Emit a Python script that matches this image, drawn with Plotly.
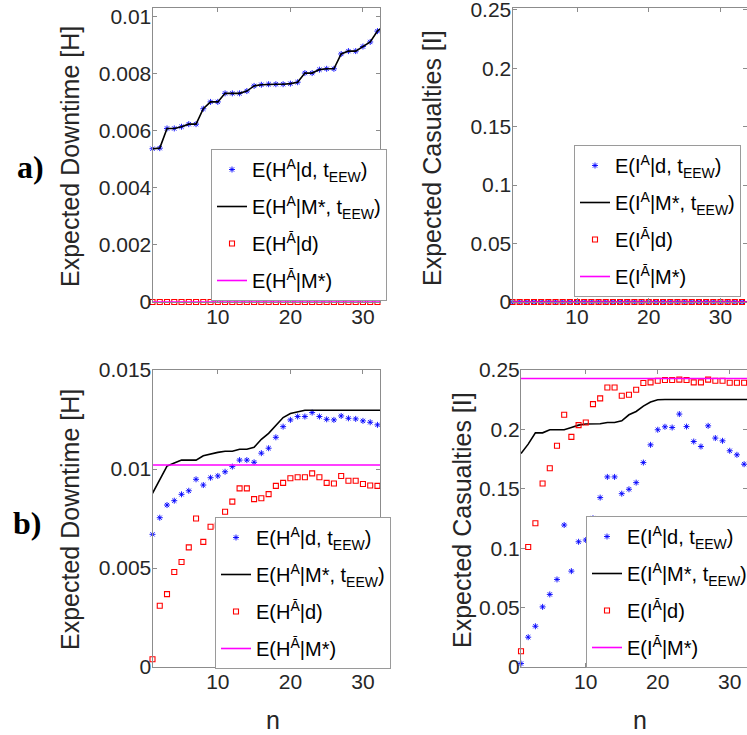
import plotly.graph_objects as go

W, H = 747, 735

# ---------------- data ----------------
n_vals = list(range(1, 35))

# panel a) downtime (H)
a_H_d = [0.00537, 0.00539, 0.00608, 0.00608, 0.00614, 0.00623, 0.00623, 0.00677,
         0.00701, 0.00701, 0.00731, 0.00731, 0.00731, 0.00739, 0.00757, 0.00761,
         0.00763, 0.00763, 0.00763, 0.00765, 0.00770, 0.00802, 0.00802, 0.00814,
         0.00817, 0.00817, 0.00869, 0.00879, 0.00879, 0.00895, 0.00911, 0.00949]
a_H_M = a_H_d + [0.00970]
a_Hbar_d = [0.0] * 32
a_Hbar_M = [0.0] * 34

# panel a) casualties (I)
a_I_d = [0.0] * 34
a_I_M = [0.0] * 34
a_Ibar_d = [0.0] * 34
a_Ibar_M = [0.0] * 34

# panel b) downtime (H)
b_H_d = [0.00670, 0.00754, 0.00818, 0.00840, 0.00872, 0.00890, 0.00948, 0.00919,
         0.00956, 0.00965, 0.00986, 0.01012, 0.01045, 0.01045, 0.01034, 0.01080,
         0.01105, 0.01160, 0.01214, 0.01248, 0.01265, 0.01265, 0.01285, 0.01265,
         0.01251, 0.01248, 0.01268, 0.01256, 0.01253, 0.01243, 0.01236, 0.01223]
b_H_M = [0.00877, 0.00944, 0.01015, 0.01030, 0.01045, 0.01045, 0.01045, 0.01067,
         0.01076, 0.01084, 0.01090, 0.01090, 0.01100, 0.01100, 0.01110, 0.01150,
         0.01180, 0.01220, 0.01260, 0.01280, 0.01290, 0.01297, 0.01297, 0.01297,
         0.01297, 0.01297, 0.01297, 0.01297, 0.01297, 0.01297, 0.01297, 0.01297,
         0.01297, 0.01297]
b_Hbar_d = [0.00039, 0.00309, 0.00368, 0.00480, 0.00530, 0.00604, 0.00750, 0.00632,
            0.00708, 0.00715, 0.00784, 0.00835, 0.00902, 0.00902, 0.00848, 0.00852,
            0.00873, 0.00915, 0.00930, 0.00953, 0.00958, 0.00958, 0.00978, 0.00958,
            0.00930, 0.00927, 0.00965, 0.00941, 0.00941, 0.00924, 0.00917, 0.00915]
b_Hbar_M = [0.0102] * 34

# panel b) casualties (I)
b_I_d = [0.0029, 0.0251, 0.0343, 0.0506, 0.0611, 0.0737, 0.1195, 0.0807,
         0.1054, 0.1069, 0.1252, 0.1426, 0.1600, 0.1600, 0.1459, 0.1496,
         0.1552, 0.1721, 0.1870, 0.1997, 0.2022, 0.2016, 0.2129, 0.2024,
         0.1898, 0.1856, 0.2030, 0.1927, 0.1904, 0.1820, 0.1786, 0.1707]
b_I_M = [0.1797, 0.1876, 0.1971, 0.1971, 0.1997, 0.1997, 0.1997, 0.2016,
         0.2036, 0.2045, 0.2045, 0.2047, 0.2058, 0.2058, 0.2072, 0.2123,
         0.2151, 0.2196, 0.2230, 0.2249, 0.2252, 0.2252, 0.2252, 0.2252,
         0.2252, 0.2252, 0.2252, 0.2252, 0.2252, 0.2252, 0.2252, 0.2252,
         0.2252, 0.2252]
b_Ibar_d = [0.0132, 0.1010, 0.1210, 0.1544, 0.1673, 0.1862, 0.2123, 0.1937,
            0.2036, 0.2058, 0.2213, 0.2261, 0.2353, 0.2353, 0.2283, 0.2292,
            0.2334, 0.2390, 0.2396, 0.2410, 0.2416, 0.2416, 0.2419, 0.2416,
            0.2396, 0.2396, 0.2419, 0.2410, 0.2410, 0.2393, 0.2393, 0.2393]
b_Ibar_M = [0.2429] * 34

x_ticks = [10, 20, 30]
yticks_aH = [0, 0.002, 0.004, 0.006, 0.008, 0.01]
yticks_I = [0, 0.05, 0.1, 0.15, 0.2, 0.25]
yticks_bH = [0, 0.005, 0.01, 0.015]

# ---------------- figure ----------------
FONT = "Liberation Sans"
BLUE, RED, MAG = "#0000ff", "#ff0000", "#ff00ff"

fig = go.Figure()


def labels(sym):
    return [
        f"E({sym}<sup>A</sup>|d, t<sub>EEW</sub>)",
        f"E({sym}<sup>A</sup>|M*, t<sub>EEW</sub>)",
        f"E({sym}<sup>Ā</sup>|d)",
        f"E({sym}<sup>Ā</sup>|M*)",
    ]


def add_panel(k, d1, m1, d2, m2, sym):
    xa = "x" if k == 1 else f"x{k}"
    ya = "y" if k == 1 else f"y{k}"
    lg = "legend" if k == 1 else f"legend{k}"
    lab = labels(sym)
    fig.add_trace(go.Scatter(x=n_vals[:len(d1)], y=d1, mode="markers", name=lab[0],
                             marker=dict(symbol="asterisk-open", size=5, color=BLUE,
                                         line=dict(color=BLUE, width=0.9)),
                             xaxis=xa, yaxis=ya, legend=lg, legendgroup=f"{k}a",
                             cliponaxis=False))
    fig.add_trace(go.Scatter(x=n_vals[:len(m1)], y=m1, mode="lines", name=lab[1],
                             line=dict(color="black", width=1.6),
                             xaxis=xa, yaxis=ya, legend=lg, legendgroup=f"{k}b"))
    fig.add_trace(go.Scatter(x=n_vals[:len(d2)], y=d2, mode="markers", name=lab[2],
                             marker=dict(symbol="square-open", size=5, color=RED,
                                         line=dict(color=RED, width=1.1)),
                             xaxis=xa, yaxis=ya, legend=lg, legendgroup=f"{k}c",
                             cliponaxis=False))
    fig.add_trace(go.Scatter(x=n_vals[:len(m2)], y=m2, mode="lines", name=lab[3],
                             line=dict(color=MAG, width=1.6),
                             xaxis=xa, yaxis=ya, legend=lg, legendgroup=f"{k}d"))


add_panel(1, a_H_d, a_H_M, a_Hbar_d, a_Hbar_M, "H")
add_panel(2, a_I_d, a_I_M, a_Ibar_d, a_Ibar_M, "I")
add_panel(3, b_H_d, b_H_M, b_Hbar_d, b_Hbar_M, "H")
add_panel(4, b_I_d, b_I_M, b_Ibar_d, b_Ibar_M, "I")


def px_x(p):
    return p / W


def px_y(p):
    return 1 - p / H


AX_COL = "#8c8c8c"
common = dict(showline=True, linecolor=AX_COL, linewidth=1, mirror="ticks",
              ticks="inside", ticklen=4, tickcolor=AX_COL, showgrid=False,
              zeroline=False, ticklabeloverflow="allow", ticklabelstandoff=-4,
              tickfont=dict(family=FONT, size=21, color="#262626"))

top_dom = [px_y(302), px_y(8)]
bot_dom = [px_y(667), px_y(370)]

fig.update_layout(
    xaxis=dict(domain=[px_x(152.5), px_x(380)], range=[1, 32.35], tickvals=x_ticks,
               anchor="y", **common),
    yaxis=dict(domain=top_dom, range=[0, 0.0103], tickvals=yticks_aH,
               ticktext=["0", "0.002", "0.004", "0.006", "0.008", "0.01"], anchor="x", **common),
    xaxis2=dict(domain=[px_x(512.5), 1], range=[1, 33.7], tickvals=x_ticks,
                anchor="y2", **common),
    yaxis2=dict(domain=top_dom, range=[0, 0.2515], tickvals=yticks_I,
                ticktext=["0", "0.05", "0.1", "0.15", "0.2", "0.25"], anchor="x2", **common),
    xaxis3=dict(domain=[px_x(152.5), px_x(380)], range=[1, 32.35], tickvals=x_ticks,
                anchor="y3", **common),
    yaxis3=dict(domain=bot_dom, range=[0, 0.015], tickvals=yticks_bH,
                ticktext=["0", "0.005", "0.01", "0.015"], anchor="x3", **common),
    xaxis4=dict(domain=[px_x(521), 1], range=[1, 32.4], tickvals=x_ticks,
                anchor="y4", **common),
    yaxis4=dict(domain=bot_dom, range=[0, 0.25], tickvals=yticks_I,
                ticktext=["0", "0.05", "0.1", "0.15", "0.2", "0.25"], anchor="x4", **common),
)

leg_common = dict(bgcolor="white", bordercolor="#9a9a9a", borderwidth=1,
                  font=dict(family=FONT, size=20, color="black"),
                  xanchor="left", yanchor="top", itemwidth=30, tracegroupgap=8)
fig.update_layout(
    legend=dict(x=px_x(211), y=px_y(149), **leg_common),
    legend2=dict(x=px_x(574), y=px_y(145), **leg_common),
    legend3=dict(x=px_x(215), y=px_y(517), **leg_common),
    legend4=dict(x=px_x(586), y=px_y(516), **leg_common),
)

ann = []
tfont = dict(family=FONT, size=25, color="#262626")
for (x, y, t) in [(70, 157, "Expected Downtime [H]"), (432, 158, "Expected Casualties [I]"),
                  (70, 520, "Expected Downtime [H]"), (462, 520, "Expected Casualties [I]")]:
    ann.append(dict(x=px_x(x), y=px_y(y), xref="paper", yref="paper", text=t,
                    textangle=-90, showarrow=False, font=tfont,
                    xanchor="center", yanchor="middle"))
for (x, y) in [(273, 720), (640, 720)]:
    ann.append(dict(x=px_x(x), y=px_y(y), xref="paper", yref="paper", text="n",
                    showarrow=False, font=tfont, xanchor="center", yanchor="middle"))
for (x, y, t) in [(30, 167, "a)"), (27, 523, "b)")]:
    ann.append(dict(x=px_x(x), y=px_y(y), xref="paper", yref="paper", text=f"<b>{t}</b>",
                    showarrow=False, font=dict(family="Liberation Serif", size=32, color="black"),
                    xanchor="center", yanchor="middle"))

fig.update_layout(width=W, height=H,
                  margin=dict(l=0, r=0, t=0, b=0, pad=0, autoexpand=False),
                  paper_bgcolor="white", plot_bgcolor="white", annotations=ann,
                  showlegend=True)

fig.write_html("out.html")
